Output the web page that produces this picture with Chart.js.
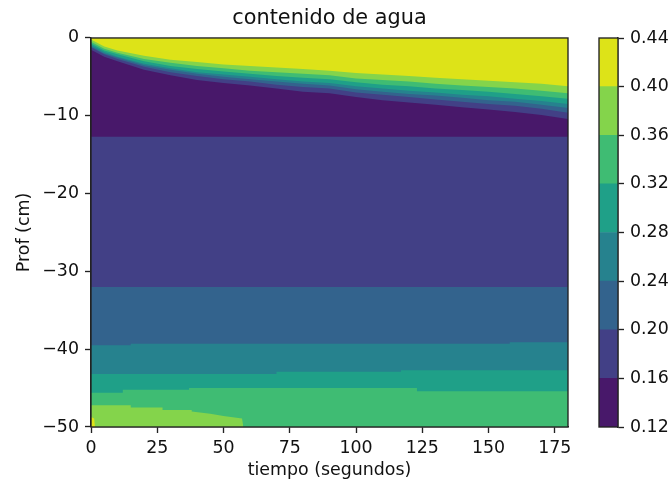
<!DOCTYPE html>
<html>
<head>
<meta charset="utf-8">
<script src="https://cdn.jsdelivr.net/npm/chart.js@4.4.1/dist/chart.umd.min.js"></script>
<style>
  html, body { margin: 0; padding: 0; background: #fff; }
  #wrap { position: relative; width: 670px; height: 486px; }
  #main { position: absolute; left: 0; top: 0; }
  #cbar { position: absolute; left: 590px; top: 0; }
</style>
</head>
<body>
<div id="wrap">
  <canvas id="main" width="670" height="486"></canvas>
  <canvas id="cbar" width="80" height="486"></canvas>
</div>
<script>
// ---------- data ----------
// contour levels of water content and their band colours (viridis)
const levels = [0.12, 0.16, 0.20, 0.24, 0.28, 0.32, 0.36, 0.40, 0.44];
const bandColors = ['#48186a', '#424086', '#33638d', '#26828e', '#1fa088', '#3fbc73', '#84d44b', '#dde318'];
const xTicks = [0, 25, 50, 75, 100, 125, 150, 175];
const yTicks = [0, -10, -20, -30, -40, -50];

// wetting front near the surface: depth (cm) of each contour vs time (s)
const tFront   = [0, 5, 10, 20, 30, 40, 50, 60, 70, 80, 90, 100, 110, 120, 130, 140, 150, 160, 170, 180];
const front040 = [-0.2, -1.1, -1.6, -2.3, -2.8, -3.1, -3.4, -3.6, -3.8, -4.0, -4.2, -4.5, -4.7, -4.9, -5.1, -5.3, -5.5, -5.7, -5.9, -6.2];
const front036 = [-0.5, -1.4, -1.9, -2.7, -3.2, -3.6, -3.9, -4.2, -4.4, -4.6, -4.8, -5.2, -5.4, -5.6, -5.9, -6.1, -6.3, -6.5, -6.8, -7.1];
const front032 = [-0.7, -1.6, -2.1, -3.0, -3.6, -4.0, -4.3, -4.6, -4.9, -5.1, -5.3, -5.7, -6.0, -6.2, -6.5, -6.7, -6.9, -7.2, -7.5, -7.8];
const front028 = [-0.9, -1.8, -2.4, -3.3, -3.9, -4.4, -4.7, -5.0, -5.3, -5.6, -5.8, -6.2, -6.5, -6.8, -7.0, -7.3, -7.5, -7.8, -8.1, -8.5];
const front024 = [-1.1, -2.0, -2.5, -3.5, -4.1, -4.6, -5.0, -5.3, -5.6, -5.9, -6.1, -6.6, -6.9, -7.2, -7.4, -7.7, -8.0, -8.2, -8.6, -9.0];
const front020 = [-1.2, -2.1, -2.7, -3.7, -4.4, -4.9, -5.3, -5.6, -6.0, -6.3, -6.5, -7.0, -7.3, -7.6, -7.9, -8.2, -8.5, -8.7, -9.1, -9.6];
const front016 = [-1.5, -2.4, -3.0, -4.1, -4.8, -5.4, -5.8, -6.1, -6.5, -6.9, -7.1, -7.6, -8.0, -8.3, -8.6, -8.9, -9.2, -9.5, -9.9, -10.4];

// surface
const tSurface = [0, 180];
const surface  = [0, 0];

// deeper contours
const tDeep016 = [0, 180];
const deep016  = [-12.7, -12.7];
const tDeep020 = [0, 180];
const deep020  = [-32.0, -32.0];
const tDeep024 = [0, 15, 15, 158, 158, 180];
const deep024  = [-39.5, -39.5, -39.3, -39.3, -39.1, -39.1];
const tDeep028 = [0, 70, 70, 117, 117, 180];
const deep028  = [-43.2, -43.2, -42.9, -42.9, -42.7, -42.7];
const tDeep032 = [0, 12, 12, 37, 37, 123, 123, 180];
const deep032  = [-45.6, -45.6, -45.2, -45.2, -45.0, -45.0, -45.4, -45.4];
const tDeep036 = [0, 15, 15, 27, 27, 38, 38, 45, 50, 57, 57.5];
const deep036  = [-47.2, -47.2, -47.5, -47.5, -47.8, -47.8, -48.0, -48.3, -48.6, -48.9, -50];
const tDeep040 = [0, 1.2, 1.5];
const deep040  = [-48.7, -48.9, -50];

// ---------- build datasets ----------
function pts(ts, ds) { return ts.map((t, i) => ({ x: t, y: ds[i] })); }
// each contour line is filled downward with the colour of the band below it;
// listed from top to bottom, later ones painted over earlier ones
const layers = [
  [tSurface, surface, 7],
  [tFront, front040, 6],
  [tFront, front036, 5],
  [tFront, front032, 4],
  [tFront, front028, 3],
  [tFront, front024, 2],
  [tFront, front020, 1],
  [tFront, front016, 0],
  [tDeep016, deep016, 1],
  [tDeep020, deep020, 2],
  [tDeep024, deep024, 3],
  [tDeep028, deep028, 4],
  [tDeep032, deep032, 5],
  [tDeep036, deep036, 6],
  [tDeep040, deep040, 7]
];
const datasets = layers.map((l, i) => ({
  data: pts(l[0], l[1]),
  backgroundColor: bandColors[l[2]],
  borderColor: 'rgba(0,0,0,0)',
  borderWidth: 0,
  pointRadius: 0,
  fill: 'start',
  tension: 0,
  order: layers.length - i
}));

const FONT = 'DejaVu Sans';
const FS = 17.4;
Chart.defaults.font.family = FONT;
Chart.defaults.font.size = FS;
Chart.defaults.color = '#111';

const LW = 1.35;
const TL = 6;
const framePlugin = {
  id: 'frame',
  afterDraw(chart) {
    const a = chart.chartArea, c = chart.ctx;
    c.save();
    c.strokeStyle = '#222';
    c.lineWidth = LW;
    c.strokeRect(a.left, a.top, a.right - a.left, a.bottom - a.top);
    c.restore();
  }
};

const minus = v => (v < 0 ? '\u2212' + Math.abs(v) : String(v));
const gridOpts = { display: true, drawOnChartArea: false, drawTicks: true, tickLength: TL, tickColor: '#222', tickWidth: LW };
const borderOpts = { display: true, color: '#222', width: LW };

new Chart(document.getElementById('main'), {
  type: 'line',
  data: { datasets },
  options: {
    responsive: false,
    animation: false,
    devicePixelRatio: 1,
    layout: { padding: { left: 0, right: 102, top: 0, bottom: 0 } },
    plugins: {
      legend: { display: false },
      tooltip: { enabled: false },
      title: {
        display: true,
        text: 'contenido de agua',
        fullSize: false,
        color: '#111',
        font: { size: 20.8, weight: 'normal' },
        padding: { top: 6.3, bottom: 6.7 }
      }
    },
    scales: {
      x: {
        type: 'linear', min: 0, max: 180,
        afterBuildTicks: s => { s.ticks = xTicks.map(v => ({ value: v })); },
        afterFit: s => { s.height = 59; },
        grid: gridOpts,
        border: borderOpts,
        ticks: { padding: 5, maxRotation: 0, autoSkip: false, callback: v => minus(v) },
        title: { display: true, text: 'tiempo (segundos)', padding: { top: 0, bottom: 4.9 } }
      },
      y: {
        type: 'linear', min: -50, max: 0,
        afterBuildTicks: s => { s.ticks = yTicks.map(v => ({ value: v })); },
        afterFit: s => { s.width = 91; },
        grid: gridOpts,
        border: borderOpts,
        ticks: { padding: 6, autoSkip: false, callback: v => minus(v) },
        title: { display: true, text: 'Prof (cm)', padding: { top: 13.6, bottom: 0 } }
      }
    }
  },
  plugins: [framePlugin]
});

// ---------- colour bar ----------
const cbTicks = levels;
new Chart(document.getElementById('cbar'), {
  type: 'bar',
  data: {
    labels: ['agua'],
    datasets: bandColors.map((c, i) => ({
      data: [[levels[i], levels[i + 1]]],
      backgroundColor: c,
      borderWidth: 0,
      barPercentage: 1,
      categoryPercentage: 1,
      grouped: false
    }))
  },
  options: {
    responsive: false,
    animation: false,
    devicePixelRatio: 1,
    layout: { padding: { left: 9, right: 0, top: 38, bottom: 59 } },
    plugins: { legend: { display: false }, tooltip: { enabled: false } },
    scales: {
      x: { display: false },
      y: {
        position: 'right', min: 0.12, max: 0.44,
        afterBuildTicks: s => { s.ticks = cbTicks.map(v => ({ value: v })); },
        afterFit: s => { s.width = 52; },
        grid: gridOpts,
        border: borderOpts,
        ticks: { padding: 6, callback: v => v.toFixed(2) }
      }
    }
  },
  plugins: [framePlugin]
});
</script>
</body>
</html>
